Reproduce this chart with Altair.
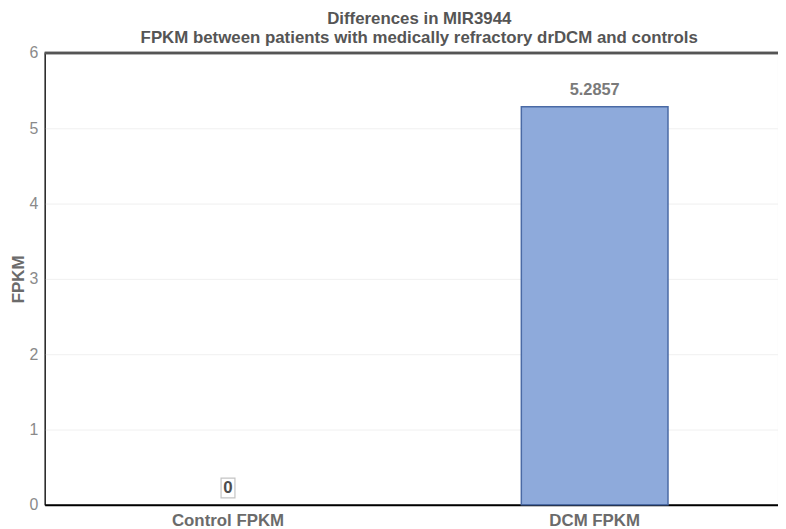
import altair as alt
import pandas as pd

categories = ["Control FPKM", "DCM FPKM"]
values = [0, 5.2857]
labels = ["0", "5.2857"]
y_ticks = [0, 1, 2, 3, 4, 5, 6]

df = pd.DataFrame({"group": categories, "fpkm": values, "label": labels})
FONT = "Liberation Sans"

x = alt.X("group:N", sort=categories,
          scale=alt.Scale(paddingInner=0.6, paddingOuter=0.3),
          axis=alt.Axis(title=None, labelAngle=0, labelFont=FONT, labelFontSize=17,
                        labelFontWeight="bold", labelColor="#6b6b6b", domainColor="#000",
                        domainWidth=2, ticks=False, labelPadding=8))
y = alt.Y("fpkm:Q", scale=alt.Scale(domain=[0, 6], nice=False),
          axis=alt.Axis(values=y_ticks, format="d", title="FPKM", titleFont=FONT,
                        titleFontSize=17, titleFontWeight="bold", titleColor="#6b6b6b",
                        titlePadding=1, grid=True, gridColor="#f0f0f0", domainColor="#000",
                        domainWidth=1, ticks=False, labelFont=FONT, labelFontSize=16,
                        labelColor="#8a8a8a", labelPadding=7))

base = alt.Chart(df)
bars = base.transform_filter(alt.datum.fpkm > 0).mark_bar(
    fill="#8eaadb", stroke="#4a6aa5", strokeWidth=1.5).encode(x=x, y=y)
top_rule = base.mark_rule(color="#555555", strokeWidth=2.5).encode(y=alt.datum(6))
txt_dcm = base.transform_filter(alt.datum.fpkm > 0).mark_text(
    font=FONT, fontSize=16.5, fontWeight="bold", color="#7a7a7a", dy=-17, baseline="middle"
).encode(x=x, y=y, text="label:N")
box_ctrl = base.transform_filter(alt.datum.fpkm == 0).mark_point(
    shape="M-0.7,-1H0.7V1H-0.7Z", size=400, filled=False, stroke="#c4c4c4", strokeWidth=1.2,
    opacity=1, yOffset=-17
).encode(x=x, y=y)
txt_ctrl = base.transform_filter(alt.datum.fpkm == 0).mark_text(
    font=FONT, fontSize=17, fontWeight="bold", color="#4d4d4d", dy=-17, baseline="middle"
).encode(x=x, y=y, text="label:N")

chart = alt.layer(bars, top_rule, txt_dcm, box_ctrl, txt_ctrl).properties(
    width=740, height=456,
    title=alt.TitleParams(
        ["Differences in MIR3944", "FPKM between patients with medically refractory drDCM and controls"],
        font=FONT, fontSize=17, fontWeight="bold", color="#555555", anchor="middle",
        lineHeight=19.5, offset=-2, dx=8),
    autosize=alt.AutoSizeParams(type="none"),
    padding={"left": 37, "top": 43, "right": 0, "bottom": 22},
).configure_view(stroke="#444444", strokeWidth=1)

chart.save("out.html", embed_options={"renderer": "svg", "actions": False})
